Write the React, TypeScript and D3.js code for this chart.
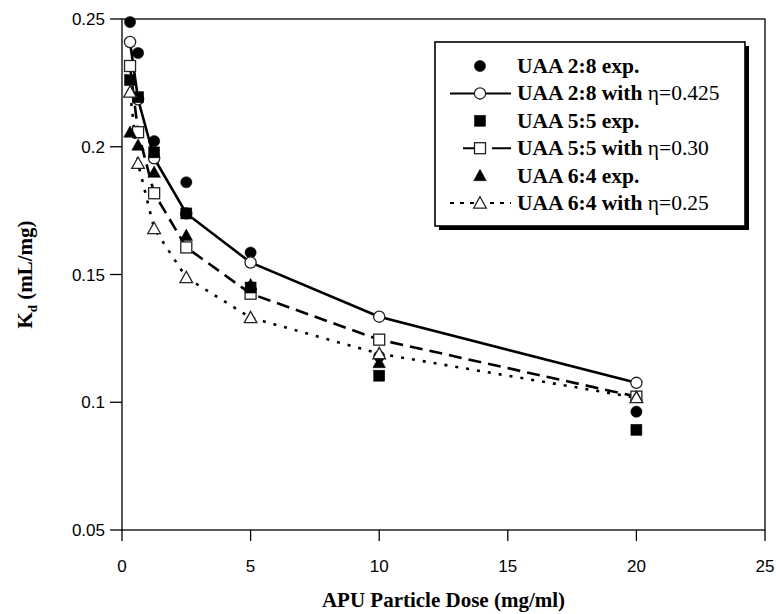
import React from "react";
import * as d3 from "d3";

const doses = [0.3125, 0.625, 1.25, 2.5, 5, 10, 20];
const uaa28Exp = [0.2488, 0.2367, 0.2022, 0.1861, 0.1586, 0.118, 0.0963];
const uaa28Model = [0.241, 0.2186, 0.1955, 0.1739, 0.1547, 0.1335, 0.1076];
const uaa55Exp = [0.2261, 0.2194, 0.1978, 0.1739, 0.1449, 0.1104, 0.0892];
const uaa55Model = [0.2316, 0.2057, 0.1818, 0.1606, 0.1425, 0.1245, 0.1022];
const uaa64Exp = [0.2057, 0.2006, 0.19, 0.1653, 0.146, 0.1155, 0.102];
const uaa64Model = [0.2214, 0.1935, 0.168, 0.1488, 0.1331, 0.119, 0.1018];

const xTicks = [0, 5, 10, 15, 20, 25];
const yTicks = [0.05, 0.1, 0.15, 0.2, 0.25];
const yTickLabels = ["0.05", "0.1", "0.15", "0.2", "0.25"];

type Shape = "circle" | "square" | "triangle";

const legendItems = [
  { bold: "UAA 2:8 exp.", rest: "", shape: "circle" as Shape, filled: true, dash: null as string | null },
  { bold: "UAA 2:8 with ", rest: "\u03b7=0.425", shape: "circle" as Shape, filled: false, dash: "none" },
  { bold: "UAA 5:5 exp.", rest: "", shape: "square" as Shape, filled: true, dash: null },
  { bold: "UAA 5:5 with ", rest: "\u03b7=0.30", shape: "square" as Shape, filled: false, dash: "0,13,12,17,13" },
  { bold: "UAA 6:4 exp.", rest: "", shape: "triangle" as Shape, filled: true, dash: null },
  { bold: "UAA 6:4 with ", rest: "\u03b7=0.25", shape: "triangle" as Shape, filled: false, dash: "4,6" },
];

const W = 776;
const H = 614;
const left = 122;
const right = 765;
const top = 19;
const bottom = 530;

const x = d3.scaleLinear().domain([0, 25]).range([left, right]);
const y = d3.scaleLinear().domain([0.05, 0.25]).range([bottom, top]);

function Marker({ cx, cy, shape, filled }: { cx: number; cy: number; shape: Shape; filled: boolean }) {
  const fill = filled ? "#000" : "#fff";
  const stroke = filled ? "#000" : "#222";
  const sw = filled ? 0.5 : 1.3;
  if (shape === "circle") return <circle cx={cx} cy={cy} r={5.6} fill={fill} stroke={stroke} strokeWidth={sw} />;
  if (shape === "square") return <rect x={cx - 5.5} y={cy - 5.5} width={11} height={11} fill={fill} stroke={stroke} strokeWidth={sw} />;
  const s = 6.3;
  return (
    <path
      d={`M${cx},${cy - s}L${cx + s},${cy + s * 0.8}L${cx - s},${cy + s * 0.8}Z`}
      fill={fill}
      stroke={stroke}
      strokeWidth={sw}
    />
  );
}

export default function App() {
  const line = d3
    .line<number>()
    .x((_, i) => x(doses[i]))
    .y((v) => y(v));

  const series: { vals: number[]; shape: Shape; filled: boolean; dash: string | null }[] = [
    { vals: uaa28Exp, shape: "circle", filled: true, dash: null },
    { vals: uaa28Model, shape: "circle", filled: false, dash: "none" },
    { vals: uaa55Model, shape: "square", filled: false, dash: "13,7" },
    { vals: uaa55Exp, shape: "square", filled: true, dash: null },
    { vals: uaa64Exp, shape: "triangle", filled: true, dash: null },
    { vals: uaa64Model, shape: "triangle", filled: false, dash: "3,8" },
  ];

  const legX = 435;
  const legY = 42;
  const legW = 310;
  const legH = 184;
  const rowY0 = 66;
  const rowDy = 27.4;

  return (
    <svg width={W} height={H} style={{ position: "absolute", left: 0, top: 0, background: "#fff" }}>
      <rect x={0} y={0} width={W} height={H} fill="#fff" />
      {/* frame */}
      <rect x={left} y={top} width={right - left} height={bottom - top} fill="none" stroke="#000" strokeWidth={1.3} />
      {/* y ticks */}
      {yTicks.map((t, i) => (
        <g key={"y" + i}>
          <line x1={left - 12} x2={left} y1={y(t)} y2={y(t)} stroke="#000" strokeWidth={1.3} />
          <text
            x={left - 17}
            y={y(t) + 6}
            textAnchor="end"
            fontFamily="Liberation Sans, Arial, sans-serif"
            fontSize={17}
          >
            {yTickLabels[i]}
          </text>
        </g>
      ))}
      {/* x ticks */}
      {xTicks.map((t, i) => (
        <g key={"x" + i}>
          <line x1={x(t)} x2={x(t)} y1={bottom} y2={bottom + 11} stroke="#000" strokeWidth={1.3} />
          <text
            x={x(t)}
            y={bottom + 42}
            textAnchor="middle"
            fontFamily="Liberation Sans, Arial, sans-serif"
            fontSize={17}
          >
            {t}
          </text>
        </g>
      ))}
      {/* axis titles */}
      <text
        x={(left + right) / 2}
        y={607}
        textAnchor="middle"
        fontFamily="Liberation Serif, Times New Roman, serif"
        fontWeight="bold"
        fontSize={21}
      >
        APU Particle Dose (mg/ml)
      </text>
      <text
        transform={`translate(32, ${(top + bottom) / 2}) rotate(-90)`}
        textAnchor="middle"
        fontFamily="Liberation Serif, Times New Roman, serif"
        fontWeight="bold"
        fontSize={21}
      >
        K<tspan fontSize={13} dy={5}>d</tspan>
        <tspan dy={-5}> (mL/mg)</tspan>
      </text>

      {/* model lines */}
      {series
        .filter((s) => s.dash !== null)
        .map((s, i) => (
          <path
            key={"l" + i}
            d={line(s.vals) || ""}
            fill="none"
            stroke="#000"
            strokeWidth={2.6}
            strokeDasharray={s.dash === "none" ? undefined : s.dash!}
          />
        ))}
      {/* markers */}
      {series.map((s, si) =>
        s.vals.map((v, i) => (
          <Marker key={`m${si}-${i}`} cx={x(doses[i])} cy={y(v)} shape={s.shape} filled={s.filled} />
        ))
      )}

      {/* legend */}
      <rect x={legX + 4} y={legY + 4} width={legW} height={legH} fill="#000" />
      <rect x={legX} y={legY} width={legW} height={legH} fill="#fff" stroke="#000" strokeWidth={1.6} />
      {legendItems.map((it, i) => {
        const cy = rowY0 + i * rowDy;
        return (
          <g key={"lg" + i}>
            {it.dash !== null && (
              <line
                x1={450}
                x2={511}
                y1={cy}
                y2={cy}
                stroke="#000"
                strokeWidth={2}
                strokeDasharray={it.dash === "none" ? undefined : it.dash}
              />
            )}
            <Marker cx={480} cy={cy} shape={it.shape} filled={it.filled} />
            <text
              x={517}
              y={cy + 7}
              fontFamily="Liberation Serif, Times New Roman, serif"
              fontSize={21.5}
            >
              <tspan fontWeight="bold">{it.bold}</tspan>
              {it.rest && <tspan>{it.rest}</tspan>}
            </text>
          </g>
        );
      })}
    </svg>
  );
}
